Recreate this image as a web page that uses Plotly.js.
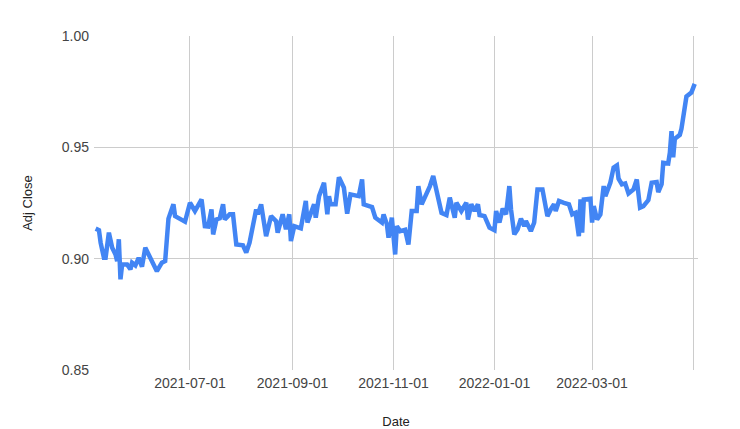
<!DOCTYPE html>
<html>
<head>
<meta charset="utf-8">
<script src="https://cdn.plot.ly/plotly-3.0.1.min.js"></script>
<style>html,body{margin:0;padding:0;background:#fff;}#chart{width:740px;height:429px;}</style>
</head>
<body>
<div id="chart"></div>
<script>
const dates = [
"2021-05-05","2021-05-07","2021-05-08","2021-05-10","2021-05-11","2021-05-13","2021-05-15","2021-05-17","2021-05-18","2021-05-19","2021-05-20","2021-05-21","2021-05-24","2021-05-26","2021-05-27","2021-05-29","2021-05-31","2021-06-02","2021-06-04","2021-06-07","2021-06-11","2021-06-14","2021-06-16","2021-06-18","2021-06-21","2021-06-22","2021-06-25","2021-06-28",
"2021-07-01","2021-07-04","2021-07-08","2021-07-10","2021-07-12","2021-07-14","2021-07-15","2021-07-17","2021-07-19","2021-07-21","2021-07-22","2021-07-25","2021-07-27","2021-07-29","2021-08-02","2021-08-04","2021-08-06","2021-08-10","2021-08-11","2021-08-13","2021-08-16","2021-08-19","2021-08-22","2021-08-23","2021-08-26","2021-08-28","2021-08-30","2021-08-31","2021-09-02",
"2021-09-06","2021-09-09","2021-09-10","2021-09-14","2021-09-15","2021-09-17","2021-09-20","2021-09-22","2021-09-23","2021-09-24","2021-09-27","2021-09-29","2021-10-02","2021-10-04","2021-10-06","2021-10-11","2021-10-13","2021-10-14","2021-10-19","2021-10-21","2021-10-25","2021-10-26","2021-10-28","2021-10-29","2021-10-31",
"2021-11-02","2021-11-03","2021-11-05","2021-11-08","2021-11-10","2021-11-12","2021-11-15","2021-11-16","2021-11-18","2021-11-21","2021-11-23","2021-11-25","2021-11-28","2021-11-30","2021-12-03","2021-12-05","2021-12-08","2021-12-09","2021-12-12","2021-12-15","2021-12-16","2021-12-18","2021-12-20","2021-12-22","2021-12-23","2021-12-26","2021-12-29",
"2022-01-01","2022-01-02","2022-01-04","2022-01-06","2022-01-08","2022-01-10","2022-01-11","2022-01-13","2022-01-15","2022-01-17","2022-01-19","2022-01-20","2022-01-23","2022-01-25","2022-01-27","2022-01-30","2022-02-02","2022-02-04","2022-02-06","2022-02-07","2022-02-09","2022-02-12","2022-02-15","2022-02-17","2022-02-19","2022-02-21","2022-02-22","2022-02-23","2022-02-24","2022-02-28",
"2022-03-01","2022-03-02","2022-03-04","2022-03-06","2022-03-08","2022-03-09","2022-03-12","2022-03-14","2022-03-16","2022-03-17","2022-03-19","2022-03-21","2022-03-23","2022-03-26","2022-03-28","2022-03-30",
"2022-04-01","2022-04-04","2022-04-06","2022-04-09","2022-04-10","2022-04-12","2022-04-13","2022-04-16","2022-04-17","2022-04-18","2022-04-19","2022-04-20","2022-04-23","2022-04-24","2022-04-26","2022-04-27","2022-04-30","2022-05-02"
];
const adjClose = [
0.9135,0.9128,0.9072,0.9004,0.9004,0.9117,0.9049,0.9019,0.8989,0.9087,0.8907,0.8974,0.8974,0.8952,0.8982,0.8970,0.9004,0.8964,0.9049,0.9004,0.8944,0.8982,0.8989,0.9180,0.9244,0.9191,0.9176,0.9166,
0.9251,0.9214,0.9266,0.9146,0.9144,0.9221,0.9109,0.9176,0.9181,0.9244,0.9176,0.9199,0.9199,0.9064,0.9060,0.9027,0.9072,0.9221,0.9199,0.9244,0.9101,0.9191,0.9169,0.9117,0.9199,0.9132,0.9199,0.9079,0.9146,
0.9136,0.9259,0.9162,0.9244,0.9184,0.9281,0.9341,0.9199,0.9281,0.9244,0.9244,0.9366,0.9319,0.9202,0.9289,0.9281,0.9356,0.9244,0.9232,0.9184,0.9162,0.9199,0.9154,0.9094,0.9184,
0.9019,0.9146,0.9124,0.9130,0.9064,0.9214,0.9214,0.9326,0.9244,0.9289,0.9326,0.9371,0.9259,0.9206,0.9196,0.9274,0.9184,0.9251,0.9214,0.9251,0.9176,0.9244,0.9214,0.9244,0.9196,0.9191,0.9139,
0.9128,0.9214,0.9162,0.9225,0.9199,0.9326,0.9221,0.9109,0.9132,0.9180,0.9146,0.9169,0.9124,0.9162,0.9311,0.9311,0.9191,0.9221,0.9244,0.9214,0.9259,0.9251,0.9244,0.9199,0.9206,0.9101,0.9266,0.9117,0.9266,0.9269,
0.9162,0.9236,0.9176,0.9199,0.9326,0.9281,0.9341,0.9409,0.9419,0.9359,0.9334,0.9338,0.9293,0.9311,0.9356,0.9229,
0.9236,0.9263,0.9341,0.9344,0.9299,0.9334,0.9431,0.9428,0.9476,0.9573,0.9455,0.9538,0.9556,0.9583,0.9694,0.9728,0.9746,0.9785
];
const xTickVals = ["2021-07-01","2021-09-01","2021-11-01","2022-01-01","2022-03-01","2022-05-01"];
const xTickText = ["2021-07-01","2021-09-01","2021-11-01","2022-01-01","2022-03-01",""];
const yTickVals = [0.85,0.90,0.95,1.00];

const trace = {
  x: dates, y: adjClose, type: 'scatter', mode: 'lines',
  line: {color: '#4285F4', width: 4.5, shape: 'linear'},
  hoverinfo: 'skip'
};
const layout = {
  width: 740, height: 429,
  margin: {l: 94, r: 42, t: 36, b: 59},
  paper_bgcolor: '#fff', plot_bgcolor: '#fff',
  font: {family: 'Liberation Sans, Arial, sans-serif', size: 14, color: '#444'},
  showlegend: false,
  xaxis: {
    type: 'date', range: ['2021-05-04', '2022-05-04'],
    tickmode: 'array', tickvals: xTickVals, ticktext: xTickText,
    showgrid: true, gridcolor: '#cccccc', gridwidth: 1,
    zeroline: false, showline: false, ticks: '',
    tickfont: {size: 14, color: '#444'},
    ticklabelstandoff: 3,
    title: {text: 'Date', font: {size: 13, color: '#222'}, standoff: 30},
    automargin: false
  },
  yaxis: {
    range: [0.85, 1.00], tickmode: 'array', tickvals: yTickVals,
    tickformat: '.2f',
    showgrid: true, gridcolor: '#cccccc', gridwidth: 1,
    zeroline: false, showline: false, ticks: '',
    tickfont: {size: 14, color: '#444'},
    ticklabelstandoff: 4,
    title: {text: 'Adj Close', font: {size: 13, color: '#222'}, standoff: 26},
    automargin: false
  }
};
Plotly.newPlot('chart', [trace], layout, {staticPlot: true, displayModeBar: false});
</script>
</body>
</html>
